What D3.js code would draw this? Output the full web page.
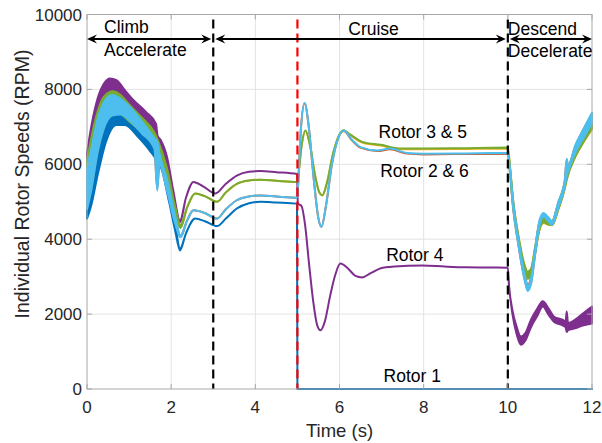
<!DOCTYPE html>
<html><head><meta charset="utf-8">
<script src="https://cdn.jsdelivr.net/npm/d3@7"></script>
<style>body{margin:0;background:#fff} text{font-family:"Liberation Sans",Arial,sans-serif}</style>
</head><body><svg id="c" width="602" height="443"></svg>
<script>
// ---- data: [time (s), low, high] (high omitted => single value)
const xTicks=[0,2,4,6,8,10,12];
const yTicks=[0,2000,4000,6000,8000,10000];

const rotor1=[[0,4550,5300],[0.1,4900,5900],[0.25,5700,6700],[0.45,6600,7150],[0.7,7050,7350],[0.9,7050,7300],[1.2,6750,7000],[1.5,6350,6600],[1.64,6100,6350],[1.67,5700,6300],[1.72,5950,6150],[1.95,5000,5200],[2.1,4200,4350],[2.21,3700,3750],[2.35,4150],[2.57,4550],[2.8,4480],[3.09,4350],[3.3,4550],[3.56,4820],[3.85,4960],[4.12,5000],[4.5,4980],[4.99,4950],[5.0,0],[12,0]];

const rotor2=[[0,4850,5800],[0.1,5350,6400],[0.25,6350,7150],[0.4,7000,7600],[0.6,7350,7800],[0.8,7380,7700],[1.0,7230,7500],[1.3,6880,7100],[1.6,6470,6650],[1.67,5350,6550],[1.72,6050,6250],[1.9,5350,5550],[2.1,4450,4550],[2.22,4060,4090],[2.38,4500],[2.53,4770],[2.8,4700],[3.09,4550],[3.3,4800],[3.56,5040],[3.85,5140],[4.12,5170],[4.5,5140],[4.99,5110],[5.02,5500],[5.08,6900],[5.17,7630],[5.27,7000],[5.38,5700],[5.5,4550],[5.57,4330],[5.68,4900],[5.82,6000],[5.97,6700],[6.1,6890],[6.3,6635],[6.5,6445],[6.9,6355],[7.2,6400],[7.61,6285],[8,6265],[9,6275],[10.0,6285],[10.05,5800,5890],[10.12,4900,5040],[10.25,3860,4000],[10.4,2930,3070],[10.47,2660,2780],[10.55,2830,2970],[10.65,3600,3740],[10.75,4320,4460],[10.85,4540,4640],[10.95,4470,4570],[11.05,4380,4480],[11.2,4830,4980],[11.35,5390,5530],[11.4,5670,6120],[11.43,5790,5940],[11.6,6280,6480],[11.8,6680,6930],[12.0,7070,7350]];

const rotor3=[[0,5050,5950],[0.1,5550,6650],[0.25,6450,7350],[0.4,7050,7750],[0.62,7450,7900],[0.8,7400,7800],[1.0,7200,7550],[1.3,6900,7200],[1.6,6500,6800],[1.68,6300,6600],[1.9,5650,5850],[2.1,4700,4800],[2.22,4310,4370],[2.38,4850],[2.57,5220],[2.8,5150],[3.09,5000],[3.3,5250],[3.56,5480],[3.85,5570],[4.12,5590],[4.5,5560],[4.99,5530],[5.02,5700],[5.1,6500],[5.19,6890],[5.3,6500],[5.42,5700],[5.52,5250],[5.59,5170],[5.7,5500],[5.85,6300],[6.0,6790],[6.1,6900],[6.25,6785],[6.54,6580],[6.98,6500],[7.46,6400],[8.0,6400],[9.0,6410],[10.0,6420],[10.05,5840,5940],[10.12,4940,5090],[10.25,3940,4090],[10.4,3130,3280],[10.47,2940,3110],[10.55,3040,3190],[10.65,3640,3790],[10.75,4240,4390],[10.85,4430,4530],[10.95,4390,4490],[11.05,4370,4470],[11.2,4790,4940],[11.35,5340,5490],[11.4,5590,5740],[11.6,6190,6390],[11.8,6590,6840],[12.0,6940,7190]];

const rotor4=[[0,5300,6300],[0.1,5900,7000],[0.25,6700,7750],[0.4,7400,8150],[0.55,7850,8290],[0.7,7900,8250],[0.9,7700,7980],[1.1,7450,7720],[1.4,7150,7400],[1.64,6850,7080],[1.68,6500,6750],[1.75,6450,6650],[1.9,5950,6200],[2.05,5100,5300],[2.21,4450,4500],[2.35,5100],[2.53,5530],[2.75,5420],[3.05,5220],[3.3,5480],[3.56,5700],[3.85,5800],[4.12,5820],[4.5,5790],[4.99,5740],[5.01,4960],[5.1,4880],[5.18,4400],[5.28,3300],[5.38,2300],[5.47,1700],[5.55,1570],[5.65,1800],[5.78,2500],[5.9,3050],[6.02,3350],[6.2,3220],[6.38,3020],[6.54,2980],[6.75,3100],[7.0,3230],[7.3,3270],[7.97,3300],[8.5,3270],[9.0,3250],[9.5,3245],[10.0,3240],[10.03,2750],[10.11,2000,2100],[10.2,1500,1700],[10.31,1180,1400],[10.42,1300,1500],[10.55,1650,1850],[10.7,1950,2150],[10.83,2200,2340],[10.97,1980,2150],[11.1,1790,1930],[11.3,1700,1850],[11.37,1650,1800],[11.4,1520,2070],[11.43,1570,1760],[11.6,1620,1850],[11.8,1700,2030],[12.0,1750,2200]];

const rotor5=[[0,5000,6100],[0.1,5500,6700],[0.25,6400,7400],[0.4,7000,7800],[0.62,7400,7950],[0.8,7350,7850],[1.0,7150,7600],[1.3,6850,7250],[1.6,6450,6850],[1.68,6250,6650],[1.9,5600,5900],[2.1,4650,4850],[2.22,4300,4380],[2.38,4850],[2.57,5220],[2.8,5150],[3.09,5000],[3.3,5250],[3.56,5480],[3.85,5570],[4.12,5590],[4.5,5560],[4.99,5530],[5.02,5700],[5.1,6500],[5.19,6900],[5.3,6500],[5.42,5700],[5.52,5250],[5.59,5170],[5.7,5500],[5.85,6300],[6.0,6800],[6.1,6910],[6.25,6800],[6.54,6600],[6.98,6520],[7.46,6420],[8.0,6420],[9.0,6430],[10.0,6440],[10.05,5850,5950],[10.12,4950,5100],[10.25,3950,4100],[10.4,3150,3300],[10.47,2950,3130],[10.55,3050,3200],[10.65,3650,3800],[10.75,4250,4400],[10.85,4450,4550],[10.95,4400,4500],[11.05,4380,4480],[11.2,4800,4950],[11.35,5350,5500],[11.4,5600,5750],[11.6,6200,6400],[11.8,6600,6850],[12.0,6950,7200]];

const rotor6=[[0,4800,5900],[0.1,5300,6400],[0.25,6300,7200],[0.4,6950,7650],[0.6,7300,7850],[0.8,7330,7750],[1.0,7180,7550],[1.3,6830,7150],[1.6,6420,6700],[1.67,5300,6600],[1.72,6000,6300],[1.9,5300,5600],[2.1,4400,4600],[2.22,4050,4100],[2.38,4500],[2.53,4770],[2.8,4700],[3.09,4550],[3.3,4800],[3.56,5040],[3.85,5140],[4.12,5170],[4.5,5140],[4.99,5110],[5.02,5500],[5.08,6900],[5.17,7640],[5.27,7000],[5.38,5700],[5.5,4550],[5.57,4330],[5.68,4900],[5.82,6000],[5.97,6700],[6.1,6900],[6.3,6650],[6.5,6460],[6.9,6370],[7.2,6420],[7.61,6300],[8,6280],[9,6290],[10.0,6300],[10.05,5800,5900],[10.12,4900,5050],[10.25,3850,4000],[10.4,2900,3050],[10.47,2620,2750],[10.55,2800,2950],[10.65,3600,3750],[10.75,4350,4500],[10.85,4600,4700],[10.95,4500,4600],[11.05,4380,4480],[11.2,4850,5000],[11.35,5400,5550],[11.4,5700,6150],[11.43,5800,5950],[11.6,6300,6500],[11.8,6700,6950],[12.0,7100,7380]];

const rotorSeries=[
  {name:"Rotor 1",data:rotor1,color:"#0072BD"},
  {name:"Rotor 2",data:rotor2,color:"#D95319"},
  {name:"Rotor 3",data:rotor3,color:"#EDB120"},
  {name:"Rotor 4",data:rotor4,color:"#7E2F8E"},
  {name:"Rotor 5",data:rotor5,color:"#77AC30"},
  {name:"Rotor 6",data:rotor6,color:"#4DBEEE"}
];
const phaseTimes=[3,5,10];
const phaseColors=["#000","#FF0000","#000"];
const phaseSpans=[[0,3],[3,10],[10,12]];
const rotorLabels=[["Rotor 3 & 5",7.98,6690],["Rotor 2 & 6",8.02,5650],["Rotor 4",7.79,3410],["Rotor 1",7.73,190]];

// ---- drawing
const svg=d3.select("#c");
const L=87,R=592,T=14.5,B=389;
const x=d3.scaleLinear().domain([0,12]).range([L,R]);
const y=d3.scaleLinear().domain([0,10000]).range([B,T]);

// grid
const grid=svg.append("g");
grid.selectAll("line.gx").data(xTicks.slice(1,-1)).join("line")
  .attr("x1",d=>x(d)).attr("x2",d=>x(d)).attr("y1",T).attr("y2",B)
  .attr("stroke","#e3e3e3").attr("stroke-width",1);
grid.selectAll("line.gy").data(yTicks.slice(1,-1)).join("line")
  .attr("y1",d=>y(d)).attr("y2",d=>y(d)).attr("x1",L).attr("x2",R)
  .attr("stroke","#e3e3e3").attr("stroke-width",1);

// curves
const area=d3.area().curve(d3.curveMonotoneX)
  .x(d=>x(d[0])).y0(d=>y(d[1])).y1(d=>y(d.length>2?d[2]:d[1]));
rotorSeries.forEach(s=>{
  svg.append("path").datum(s.data).attr("d",area)
    .attr("fill",s.color).attr("stroke",s.color).attr("stroke-width",2)
    .attr("stroke-linejoin","round");
});

// phase dashed lines
phaseTimes.forEach((t,i)=>{
  svg.append("line").attr("x1",x(t)).attr("x2",x(t)).attr("y1",T+5).attr("y2",B)
    .attr("stroke",phaseColors[i]).attr("stroke-width",2.2).attr("stroke-dasharray","9,5");
});

// axes
const ax=svg.append("g").attr("font-size",17).attr("fill","#262626");
svg.append("rect").attr("x",L).attr("y",T).attr("width",R-L).attr("height",B-T)
  .attr("fill","none").attr("stroke","#a8a8a8").attr("stroke-width",1);
xTicks.forEach(t=>{
  svg.append("line").attr("x1",x(t)).attr("x2",x(t)).attr("y1",B).attr("y2",B-5).attr("stroke","#a8a8a8");
  svg.append("line").attr("x1",x(t)).attr("x2",x(t)).attr("y1",T).attr("y2",T+5).attr("stroke","#a8a8a8");
  ax.append("text").attr("x",x(t)).attr("y",B+24).attr("text-anchor","middle").text(t);
});
yTicks.forEach(v=>{
  svg.append("line").attr("x1",L).attr("x2",L+5).attr("y1",y(v)).attr("y2",y(v)).attr("stroke","#a8a8a8");
  svg.append("line").attr("x1",R).attr("x2",R-5).attr("y1",y(v)).attr("y2",y(v)).attr("stroke","#a8a8a8");
  ax.append("text").attr("x",L-5).attr("y",y(v)+6).attr("text-anchor","end").text(v);
});
svg.append("text").attr("x",(L+R)/2).attr("y",437).attr("text-anchor","middle")
  .attr("font-size",18.5).attr("fill","#262626").text("Time (s)");
svg.append("text").attr("transform",`translate(29,${184}) rotate(-90)`).attr("text-anchor","middle")
  .attr("font-size",19.5).attr("fill","#262626").text("Individual Rotor Speeds (RPM)");

// phase arrows
const ay=39;
function head(px,dir){
  return `M${px},${ay} L${px-dir*10},${ay-4.5} L${px-dir*6.5},${ay} L${px-dir*10},${ay+4.5} Z`;
}
phaseSpans.forEach(([a,b],i)=>{
  const xa=x(a)+(i===0?0:2), xb=x(b)-(i===2?0:2);
  svg.append("line").attr("x1",xa+4).attr("x2",xb-4).attr("y1",ay).attr("y2",ay)
    .attr("stroke","#000").attr("stroke-width",2);
  svg.append("path").attr("d",head(xa,-1)).attr("fill","#000");
  svg.append("path").attr("d",head(xb,1)).attr("fill","#000");
});
const tg=svg.append("g").attr("font-size",17.5).attr("fill","#000");
tg.append("text").attr("x",x(0)+17).attr("y",33).text("Climb");
tg.append("text").attr("x",x(0)+17).attr("y",56).text("Accelerate");
tg.append("text").attr("x",(x(3)+x(10))/2+13).attr("y",35).attr("text-anchor","middle").text("Cruise");
tg.append("text").attr("x",x(10)).attr("y",35).text("Descend");
tg.append("text").attr("x",x(10)).attr("y",57).text("Decelerate");
rotorLabels.forEach(([txt,t,v])=>{
  tg.append("text").attr("x",x(t)).attr("y",y(v)).attr("text-anchor","middle").text(txt);
});
</script></body></html>
